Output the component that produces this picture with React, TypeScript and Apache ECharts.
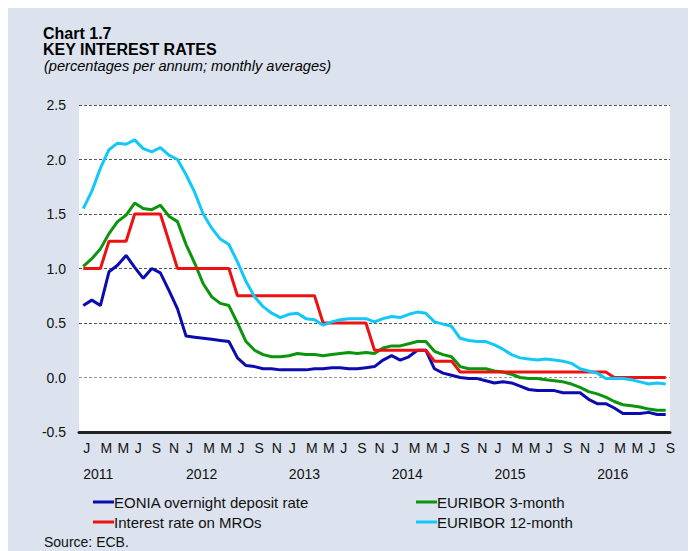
import React, { useEffect, useRef } from "react";
import * as echarts from "echarts";

const monthLetters = ["J", "F", "M", "A", "M", "J", "J", "A", "S", "O", "N", "D"];
const years = [2011, 2012, 2013, 2014, 2015, 2016];
const monthsInLastYear = 9;

const categories: string[] = [];
years.forEach((y, yi) => {
  const n = yi === years.length - 1 ? monthsInLastYear : 12;
  for (let m = 0; m < n; m++) categories.push(`${y}-${m}`);
});

const yTicks = { min: -0.5, max: 2.5, interval: 0.5 };

const eonia = [
  0.66, 0.71, 0.66, 0.97, 1.03, 1.12, 1.01, 0.91, 1.0, 0.96, 0.8, 0.63,
  0.38, 0.37, 0.36, 0.35, 0.34, 0.33, 0.18, 0.11, 0.1, 0.08, 0.08, 0.07,
  0.07, 0.07, 0.07, 0.08, 0.08, 0.09, 0.09, 0.08, 0.08, 0.09, 0.1, 0.16,
  0.2, 0.16, 0.19, 0.25, 0.25, 0.08, 0.04, 0.02, 0.0, -0.01, -0.01, -0.03,
  -0.05, -0.04, -0.05, -0.08, -0.11, -0.12, -0.12, -0.12, -0.14, -0.14, -0.14, -0.2,
  -0.24, -0.24, -0.28, -0.33, -0.33, -0.33, -0.32, -0.34, -0.34,
];

const mro = [
  1.0, 1.0, 1.0, 1.25, 1.25, 1.25, 1.5, 1.5, 1.5, 1.5, 1.25, 1.0,
  1.0, 1.0, 1.0, 1.0, 1.0, 1.0, 0.75, 0.75, 0.75, 0.75, 0.75, 0.75,
  0.75, 0.75, 0.75, 0.75, 0.5, 0.5, 0.5, 0.5, 0.5, 0.5, 0.25, 0.25,
  0.25, 0.25, 0.25, 0.25, 0.25, 0.15, 0.15, 0.15, 0.05, 0.05, 0.05, 0.05,
  0.05, 0.05, 0.05, 0.05, 0.05, 0.05, 0.05, 0.05, 0.05, 0.05, 0.05, 0.05,
  0.05, 0.05, 0.0, 0.0, 0.0, 0.0, 0.0, 0.0, 0.0,
];

const euribor3m = [
  1.02, 1.09, 1.18, 1.32, 1.43, 1.49, 1.6, 1.55, 1.54, 1.58, 1.48, 1.43,
  1.22, 1.05, 0.86, 0.74, 0.68, 0.66, 0.5, 0.33, 0.25, 0.21, 0.19, 0.19,
  0.2, 0.22, 0.21, 0.21, 0.2, 0.21, 0.22, 0.23, 0.22, 0.23, 0.22, 0.27,
  0.29, 0.29, 0.31, 0.33, 0.33, 0.24, 0.21, 0.19, 0.1, 0.08, 0.08, 0.08,
  0.06, 0.05, 0.03, 0.0, -0.01, -0.01, -0.02, -0.03, -0.04, -0.06, -0.09, -0.13,
  -0.15, -0.18, -0.22, -0.25, -0.26, -0.27, -0.29, -0.3, -0.3,
];

const euribor12m = [
  1.55, 1.71, 1.92, 2.09, 2.15, 2.14, 2.18, 2.1, 2.07, 2.11, 2.04, 2.0,
  1.86, 1.7, 1.5, 1.37, 1.27, 1.22, 1.06, 0.88, 0.74, 0.65, 0.59, 0.55,
  0.58, 0.59, 0.54, 0.53, 0.48, 0.51, 0.53, 0.54, 0.54, 0.54, 0.51, 0.54,
  0.56, 0.55, 0.58, 0.6, 0.59, 0.51, 0.49, 0.47, 0.36, 0.34, 0.33, 0.33,
  0.3, 0.26, 0.21, 0.18, 0.17, 0.16, 0.17, 0.16, 0.15, 0.13, 0.08, 0.06,
  0.04, -0.01, -0.01, -0.01, -0.02, -0.04, -0.06, -0.05, -0.06,
];

const seriesNames = {
  eonia: "EONIA overnight deposit rate",
  mro: "Interest rate on MROs",
  e3m: "EURIBOR 3-month",
  e12m: "EURIBOR 12-month",
};

const colors = {
  eonia: "#0b0bb0",
  mro: "#ee1111",
  e3m: "#0a950a",
  e12m: "#12c8f8",
};

const FONT = "Arial, 'Liberation Sans', Helvetica, sans-serif";

export default function App() {
  const ref = useRef<HTMLDivElement>(null);

  useEffect(() => {
    if (!ref.current) return;
    const chart = echarts.init(ref.current, undefined, { renderer: "svg" });
    const line = (name: string, data: number[], color: string) => ({
      name,
      type: "line",
      data,
      symbol: "none",
      xAxisIndex: 0,
      yAxisIndex: 0,
      lineStyle: { color, width: 3 },
      itemStyle: { color },
      emphasis: { disabled: true },
    });
    const legendBase = {
      orient: "vertical",
      icon: "rect",
      itemWidth: 21,
      itemHeight: 3,
      itemGap: 4,
      padding: 0,
      textStyle: { fontFamily: FONT, fontSize: 15, color: "#111", lineHeight: 16, padding: [0, 0, 0, -5] },
    };
    chart.setOption({
      animation: false,
      backgroundColor: "#dce3ee",
      textStyle: { fontFamily: FONT },
      grid: {
        left: 71,
        right: 26,
        top: 97,
        bottom: 119,
        show: true,
        backgroundColor: "#ffffff",
        borderWidth: 0,
      },
      graphic: [
        {
          type: "text",
          left: 35,
          top: 17,
          style: { text: "Chart 1.7", font: `bold 16px ${FONT}`, lineHeight: 16, fill: "#000" },
        },
        {
          type: "text",
          left: 35,
          top: 33,
          style: { text: "KEY INTEREST RATES", font: `bold 16px ${FONT}`, lineHeight: 16, fill: "#000" },
        },
        {
          type: "text",
          left: 36,
          top: 50,
          style: {
            text: "(percentages per annum; monthly averages)",
            font: `italic 14.6px ${FONT}`,
            lineHeight: 15,
            fill: "#000",
          },
        },
        {
          type: "text",
          left: 36,
          top: 527,
          style: { text: "Source: ECB.", font: `14px ${FONT}`, fill: "#111" },
        },
      ],
      legend: [
        { ...legendBase, left: 85, top: 486, data: [seriesNames.eonia, seriesNames.mro] },
        { ...legendBase, left: 408, top: 486, data: [seriesNames.e3m, seriesNames.e12m] },
      ],
      xAxis: [
        {
          type: "category",
          data: categories,
          boundaryGap: true,
          axisLine: { onZero: false, lineStyle: { color: "#222", width: 3 } },
          axisTick: { show: false },
          splitLine: { show: false },
          axisLabel: {
            interval: (index: number) => index % 2 === 0,
            formatter: (v: string) => monthLetters[Number(v.split("-")[1])],
            align: "left",
            margin: 9,
            fontSize: 14,
            color: "#111",
            fontFamily: FONT,
          },
        },
        {
          type: "category",
          data: categories,
          position: "bottom",
          offset: 26,
          boundaryGap: true,
          axisLine: { show: false },
          axisTick: { show: false },
          splitLine: { show: false },
          axisLabel: {
            interval: (index: number) => index % 12 === 0,
            formatter: (v: string) => v.split("-")[0],
            align: "left",
            margin: 9,
            fontSize: 14,
            color: "#111",
            fontFamily: FONT,
          },
        },
      ],
      yAxis: {
        type: "value",
        min: yTicks.min,
        max: yTicks.max,
        interval: yTicks.interval,
        axisLine: { show: false },
        axisTick: { show: false },
        axisLabel: {
          formatter: (v: number) => v.toFixed(1),
          margin: 13,
          fontSize: 14,
          color: "#111",
          fontFamily: FONT,
        },
        splitLine: {
          show: true,
          lineStyle: {
            color: ["#222", "#9a9a9a", "#555", "#555", "#555", "#555", "#555"],
            type: [3, 2],
            width: 1,
          },
        },
      },
      series: [
        line(seriesNames.eonia, eonia, colors.eonia),
        line(seriesNames.e3m, euribor3m, colors.e3m),
        line(seriesNames.mro, mro, colors.mro),
        line(seriesNames.e12m, euribor12m, colors.e12m),
      ],
    });
    return () => chart.dispose();
  }, []);

  return <div ref={ref} style={{ width: 688, height: 543 }} />;
}
